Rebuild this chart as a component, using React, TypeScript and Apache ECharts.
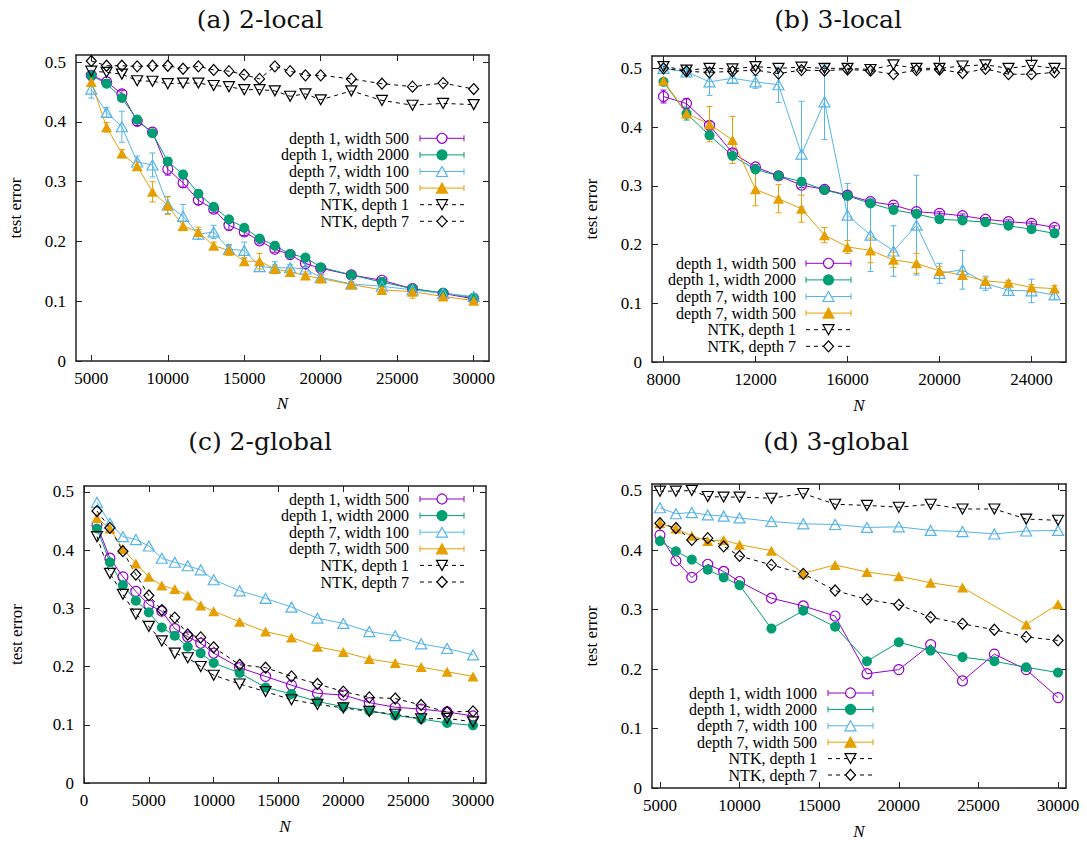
import React, { useEffect, useRef } from "react";
import * as echarts from "echarts";

const PURPLE = "#9400d3";
const GREEN = "#009e73";
const BLUE = "#56b4e9";
const ORANGE = "#e69f00";
const BLACK = "#000000";
const FONT = '"Liberation Serif", "Times New Roman", serif';
const TITLE_FONT = '"DejaVu Serif", serif';

// ---------- Panel (a) 2-local ----------
const aN = [5000, 6000, 7000, 8000, 9000, 10000, 11000, 12000, 13000, 14000, 15000, 16000, 17000, 18000, 19000, 20000, 22000, 24000, 26000, 28000, 30000];
const aD1W500 = [0.478, 0.467, 0.447, 0.401, 0.383, 0.321, 0.298, 0.269, 0.254, 0.227, 0.216, 0.201, 0.187, 0.178, 0.163, 0.155, 0.144, 0.135, 0.121, 0.113, 0.104];
const aD1W500Err = [0.004, 0.004, 0.006, 0.007, 0.004, 0.010, 0.007, 0.007, 0.006, 0.008, 0.006, 0.005, 0.005, 0.005, 0.005, 0.004, 0.004, 0.004, 0.004, 0.003, 0.003];
const aD1W2000 = [0.478, 0.464, 0.440, 0.404, 0.381, 0.334, 0.312, 0.280, 0.258, 0.237, 0.223, 0.205, 0.193, 0.179, 0.173, 0.157, 0.144, 0.132, 0.121, 0.114, 0.106];
const aD1W2000Err = [0.003, 0.003, 0.004, 0.005, 0.004, 0.005, 0.007, 0.006, 0.005, 0.004, 0.004, 0.004, 0.004, 0.003, 0.004, 0.003, 0.003, 0.003, 0.003, 0.003, 0.003];
const aD7W100 = [0.455, 0.416, 0.392, 0.333, 0.328, 0.261, 0.242, 0.212, 0.216, 0.187, 0.185, 0.158, 0.156, 0.156, 0.154, 0.140, 0.129, 0.125, 0.119, 0.113, 0.108];
const aD7W100Err = [0.015, 0.008, 0.026, 0.010, 0.020, 0.014, 0.020, 0.008, 0.011, 0.008, 0.014, 0.008, 0.010, 0.005, 0.009, 0.005, 0.004, 0.005, 0.008, 0.004, 0.004];
const aD7W500 = [0.467, 0.391, 0.347, 0.326, 0.283, 0.260, 0.226, 0.216, 0.193, 0.185, 0.167, 0.167, 0.154, 0.149, 0.143, 0.138, 0.128, 0.119, 0.116, 0.108, 0.101];
const aD7W500Err = [0.005, 0.008, 0.007, 0.007, 0.017, 0.015, 0.008, 0.008, 0.006, 0.008, 0.006, 0.013, 0.007, 0.005, 0.006, 0.007, 0.004, 0.004, 0.011, 0.004, 0.004];
const aNtk1 = [0.485, 0.483, 0.480, 0.469, 0.468, 0.464, 0.465, 0.465, 0.461, 0.459, 0.454, 0.454, 0.452, 0.443, 0.447, 0.437, 0.452, 0.436, 0.428, 0.431, 0.429];
const aNtk7 = [0.502, 0.494, 0.494, 0.493, 0.494, 0.494, 0.489, 0.493, 0.487, 0.485, 0.479, 0.472, 0.493, 0.485, 0.478, 0.478, 0.472, 0.464, 0.459, 0.465, 0.455];
const aXTicks = [5000, 10000, 15000, 20000, 25000, 30000];

// ---------- Panel (b) 3-local ----------
const bN = [8000, 9000, 10000, 11000, 12000, 13000, 14000, 15000, 16000, 17000, 18000, 19000, 20000, 21000, 22000, 23000, 24000, 25000];
const bD1W500 = [0.452, 0.440, 0.403, 0.356, 0.332, 0.317, 0.301, 0.294, 0.284, 0.273, 0.267, 0.256, 0.253, 0.249, 0.243, 0.239, 0.236, 0.229];
const bD1W500Err = [0.011, 0.009, 0.006, 0.005, 0.004, 0.004, 0.004, 0.003, 0.003, 0.003, 0.003, 0.003, 0.003, 0.003, 0.003, 0.003, 0.003, 0.003];
const bD1W2000 = [0.477, 0.423, 0.386, 0.351, 0.328, 0.317, 0.307, 0.293, 0.283, 0.270, 0.259, 0.252, 0.243, 0.241, 0.238, 0.232, 0.226, 0.219];
const bD1W2000Err = [0.004, 0.011, 0.007, 0.005, 0.004, 0.004, 0.004, 0.003, 0.003, 0.003, 0.003, 0.003, 0.003, 0.003, 0.003, 0.003, 0.003, 0.003];
const bD7W100 = [0.500, 0.494, 0.477, 0.483, 0.477, 0.472, 0.354, 0.443, 0.250, 0.216, 0.189, 0.233, 0.151, 0.157, 0.134, 0.122, 0.121, 0.114];
const bD7W100Err = [0.004, 0.006, 0.023, 0.008, 0.011, 0.030, 0.090, 0.064, 0.054, 0.062, 0.043, 0.085, 0.017, 0.033, 0.012, 0.009, 0.020, 0.007];
const bD7W500 = [0.479, 0.423, 0.405, 0.378, 0.294, 0.278, 0.261, 0.216, 0.196, 0.190, 0.174, 0.168, 0.155, 0.148, 0.138, 0.135, 0.127, 0.125];
const bD7W500Err = [0.004, 0.007, 0.030, 0.040, 0.028, 0.024, 0.023, 0.013, 0.011, 0.021, 0.013, 0.017, 0.008, 0.006, 0.005, 0.004, 0.005, 0.005];
const bNtk1 = [0.503, 0.497, 0.500, 0.499, 0.503, 0.500, 0.502, 0.500, 0.500, 0.498, 0.506, 0.500, 0.500, 0.504, 0.506, 0.500, 0.505, 0.500];
const bNtk7 = [0.500, 0.495, 0.493, 0.495, 0.497, 0.491, 0.497, 0.496, 0.498, 0.496, 0.490, 0.497, 0.498, 0.492, 0.499, 0.490, 0.490, 0.493];
const bXTicks = [8000, 12000, 16000, 20000, 24000];

// ---------- Panel (c) 2-global ----------
const cN = [1000, 2000, 3000, 4000, 5000, 6000, 7000, 8000, 9000, 10000, 12000, 14000, 16000, 18000, 20000, 22000, 24000, 26000, 28000, 30000];
const cD1W500 = [0.443, 0.386, 0.354, 0.329, 0.306, 0.295, 0.265, 0.251, 0.240, 0.223, 0.198, 0.183, 0.168, 0.154, 0.151, 0.138, 0.130, 0.127, 0.122, 0.115];
const cD1W2000 = [0.437, 0.379, 0.340, 0.313, 0.293, 0.267, 0.253, 0.234, 0.223, 0.206, 0.189, 0.164, 0.153, 0.140, 0.131, 0.124, 0.116, 0.110, 0.103, 0.099];
const cD7W100 = [0.482, 0.446, 0.423, 0.418, 0.407, 0.386, 0.379, 0.373, 0.366, 0.349, 0.330, 0.317, 0.302, 0.283, 0.274, 0.260, 0.253, 0.239, 0.231, 0.220];
const cD7W500 = [0.455, 0.437, 0.402, 0.377, 0.354, 0.339, 0.333, 0.322, 0.305, 0.295, 0.277, 0.260, 0.250, 0.234, 0.225, 0.213, 0.206, 0.199, 0.191, 0.183];
const cNtk1 = [0.423, 0.360, 0.324, 0.290, 0.269, 0.244, 0.223, 0.215, 0.200, 0.185, 0.170, 0.157, 0.143, 0.135, 0.129, 0.123, 0.118, 0.110, 0.111, 0.105];
const cNtk7 = [0.467, 0.438, 0.398, 0.358, 0.322, 0.297, 0.284, 0.255, 0.250, 0.233, 0.203, 0.198, 0.183, 0.170, 0.157, 0.147, 0.145, 0.134, 0.122, 0.123];
const cXTicks = [0, 5000, 10000, 15000, 20000, 25000, 30000];

// ---------- Panel (d) 3-global ----------
const dN = [5000, 6000, 7000, 8000, 9000, 10000, 12000, 14000, 16000, 18000, 20000, 22000, 24000, 26000, 28000, 30000];
const dD1W1000 = [0.425, 0.382, 0.354, 0.376, 0.364, 0.347, 0.319, 0.306, 0.289, 0.192, 0.199, 0.241, 0.180, 0.225, 0.199, 0.152];
const dD1W2000 = [0.415, 0.398, 0.384, 0.367, 0.354, 0.341, 0.268, 0.298, 0.271, 0.213, 0.245, 0.231, 0.220, 0.213, 0.203, 0.194];
const dD7W100 = [0.471, 0.461, 0.463, 0.459, 0.457, 0.454, 0.448, 0.444, 0.443, 0.438, 0.439, 0.433, 0.431, 0.427, 0.432, 0.433];
const dD7W500 = [0.445, 0.436, 0.424, 0.415, 0.417, 0.409, 0.399, 0.361, 0.375, 0.363, 0.356, 0.345, 0.337, null, 0.275, 0.309];
const dNtk1 = [0.499, 0.499, 0.500, 0.490, 0.489, 0.489, 0.487, 0.495, 0.477, 0.475, 0.472, 0.477, 0.469, 0.469, 0.452, 0.450];
const dNtk7 = [0.445, 0.437, 0.417, 0.420, 0.406, 0.390, 0.375, 0.360, 0.332, 0.317, 0.308, 0.287, 0.276, 0.266, 0.254, 0.248];
const dXTicks = [5000, 10000, 15000, 20000, 25000, 30000];

const yTicks = [0, 0.1, 0.2, 0.3, 0.4, 0.5];

const titles = ["(a) 2-local", "(b) 3-local", "(c) 2-global", "(d) 3-global"];
const namesABC = ["depth 1, width 500", "depth 1, width 2000", "depth 7, width 100", "depth 7, width 500", "NTK, depth 1", "NTK, depth 7"];
const namesD = ["depth 1, width 1000", "depth 1, width 2000", "depth 7, width 100", "depth 7, width 500", "NTK, depth 1", "NTK, depth 7"];

type Kind = "p" | "g" | "b" | "o" | "n1" | "n7";
const KINDS: Kind[] = ["p", "g", "b", "o", "n1", "n7"];
const STYLE: Record<Kind, any> = {
  p: { color: PURPLE, symbol: "circle", filled: false, dashed: false, size: 10, rotate: 0 },
  g: { color: GREEN, symbol: "circle", filled: true, dashed: false, size: 10, rotate: 0 },
  b: { color: BLUE, symbol: "triangle", filled: false, dashed: false, size: [11, 10], rotate: 0 },
  o: { color: ORANGE, symbol: "triangle", filled: true, dashed: false, size: [11, 10], rotate: 0 },
  n1: { color: BLACK, symbol: "triangle", filled: false, dashed: true, size: [11, 10], rotate: 180 },
  n7: { color: BLACK, symbol: "diamond", filled: false, dashed: true, size: [10, 11], rotate: 0 },
};

function errRender(color: string) {
  return (params: any, api: any) => {
    const x = api.value(0);
    const lo = api.coord([x, api.value(1)]);
    const hi = api.coord([x, api.value(2)]);
    const w = 3;
    const style = { stroke: color, lineWidth: 1 };
    return {
      type: "group",
      children: [
        { type: "line", shape: { x1: lo[0], y1: lo[1], x2: hi[0], y2: hi[1] }, style },
        { type: "line", shape: { x1: lo[0] - w, y1: lo[1], x2: lo[0] + w, y2: lo[1] }, style },
        { type: "line", shape: { x1: hi[0] - w, y1: hi[1], x2: hi[0] + w, y2: hi[1] }, style },
      ],
    };
  };
}

function panelSeries(g: number, xs: number[], ys: (number | null)[][], errs: (number[] | null)[]) {
  const out: any[] = [];
  ys.forEach((y, k) => {
    const st = STYLE[KINDS[k]];
    const err = errs[k];
    if (err) {
      out.push({
        type: "custom",
        xAxisIndex: g * 2,
        yAxisIndex: g * 2,
        z: 1,
        silent: true,
        data: xs.map((x, i) => [x, (y[i] as number) - err[i], (y[i] as number) + err[i]]),
        encode: { x: 0, y: [1, 2] },
        renderItem: errRender(st.color),
      });
    }
    const data = xs.map((x, i) => (y[i] == null ? null : [x, y[i]])).filter((d) => d !== null);
    out.push({
      type: "line",
      xAxisIndex: g * 2,
      yAxisIndex: g * 2,
      z: 2,
      silent: true,
      data,
      symbol: st.symbol,
      symbolSize: st.size,
      symbolRotate: st.rotate,
      showAllSymbol: true,
      lineStyle: { color: st.color, width: 1, type: st.dashed ? [4, 4] : "solid" },
      itemStyle: st.filled
        ? { color: st.color, borderWidth: 0 }
        : { color: "rgba(255,255,255,0)", borderColor: st.color, borderWidth: 1.2 },
      emphasis: { disabled: true },
    });
  });
  return out;
}

function axesFor(g: number, xMin: number, xMax: number, yMax: number, xTicks: number[], xGap: number, yGap: number) {
  const axisLine = { show: true, onZero: false, lineStyle: { color: "#222", width: 1.5 } };
  const tick = (vals: number[]) => ({ show: true, inside: true, length: 6, customValues: vals, lineStyle: { color: "#222", width: 1 } });
  const label = (vals: number[], margin: number) => ({
    show: true,
    customValues: vals,
    margin,
    formatter: (v: number) => String(v),
    color: "#000",
    fontFamily: FONT,
    fontSize: 17,
  });
  const x = [
    {
      type: "value", gridIndex: g, position: "bottom", min: xMin, max: xMax,
      axisLine, axisTick: tick(xTicks), axisLabel: label(xTicks, 9), splitLine: { show: false },
      name: "N", nameLocation: "middle", nameGap: xGap, nameMoveOverlap: false,
      nameTextStyle: { fontFamily: FONT, fontSize: 17, fontStyle: "italic", color: "#000" },
    },
    {
      type: "value", gridIndex: g, position: "top", min: xMin, max: xMax,
      axisLine, axisTick: tick(xTicks), axisLabel: { show: false }, splitLine: { show: false },
    },
  ];
  const y = [
    {
      type: "value", gridIndex: g, position: "left", min: 0, max: yMax,
      axisLine, axisTick: tick(yTicks), axisLabel: label(yTicks, 10), splitLine: { show: false },
      name: "test error", nameLocation: "middle", nameGap: yGap, nameMoveOverlap: false,
      nameTextStyle: { fontFamily: FONT, fontSize: 17, color: "#000" },
    },
    {
      type: "value", gridIndex: g, position: "right", min: 0, max: yMax,
      axisLine, axisTick: tick(yTicks), axisLabel: { show: false }, splitLine: { show: false },
    },
  ];
  return { x, y };
}

function legendEls(textRight: number, x1: number, x2: number, y0: number, dy: number, names: string[]) {
  const els: any[] = [];
  const cx = (x1 + x2) / 2;
  names.forEach((nm, i) => {
    const y = y0 + dy * i;
    const st = STYLE[KINDS[i]];
    els.push({
      type: "text", x: textRight, y, silent: true,
      style: {
        text: nm, font: `16px ${FONT}`, fill: "#000", lineHeight: 14,
        textAlign: "right", textVerticalAlign: "middle",
      },
    });
    els.push({
      type: "line", silent: true, shape: { x1, y1: y, x2, y2: y },
      style: { stroke: st.color, lineWidth: 1, lineDash: st.dashed ? [4, 4] : null },
    });
    if (!st.dashed) {
      els.push({ type: "line", silent: true, shape: { x1, y1: y - 3, x2: x1, y2: y + 3 }, style: { stroke: st.color, lineWidth: 1 } });
      els.push({ type: "line", silent: true, shape: { x1: x2, y1: y - 3, x2, y2: y + 3 }, style: { stroke: st.color, lineWidth: 1 } });
    }
    const fill = st.filled ? st.color : "#fff";
    const sStyle = { fill, stroke: st.color, lineWidth: 1.2 };
    if (st.symbol === "circle") {
      els.push({ type: "circle", silent: true, shape: { cx, cy: y, r: 5 }, style: sStyle });
    } else if (st.symbol === "diamond") {
      els.push({ type: "polygon", silent: true, shape: { points: [[cx, y - 5.5], [cx + 5, y], [cx, y + 5.5], [cx - 5, y]] }, style: sStyle });
    } else if (st.rotate === 180) {
      els.push({ type: "polygon", silent: true, shape: { points: [[cx - 5.5, y - 5], [cx + 5.5, y - 5], [cx, y + 5]] }, style: sStyle });
    } else {
      els.push({ type: "polygon", silent: true, shape: { points: [[cx, y - 5], [cx + 5.5, y + 5], [cx - 5.5, y + 5]] }, style: sStyle });
    }
  });
  return els;
}

function titleEl(text: string, x: number, y: number) {
  return {
    type: "text", x, y, silent: true,
    style: { text, font: `25px ${TITLE_FONT}`, fill: "#111", textAlign: "center", textVerticalAlign: "middle" },
  };
}

export default function App() {
  const ref = useRef<HTMLDivElement>(null);
  useEffect(() => {
    if (!ref.current) return;
    const chart = echarts.init(ref.current, undefined, { renderer: "svg" });

    const axA = axesFor(0, 4000, 31000, 0.512, aXTicks, 34, 52);
    const axB = axesFor(1, 7500, 25500, 0.521, bXTicks, 35, 52);
    const axC = axesFor(2, 0, 31000, 0.51, cXTicks, 35, 59);
    const axD = axesFor(3, 4500, 30500, 0.511, dXTicks, 35, 52);

    const series = [
      ...panelSeries(0, aN, [aD1W500, aD1W2000, aD7W100, aD7W500, aNtk1, aNtk7], [aD1W500Err, aD1W2000Err, aD7W100Err, aD7W500Err, null, null]),
      ...panelSeries(1, bN, [bD1W500, bD1W2000, bD7W100, bD7W500, bNtk1, bNtk7], [bD1W500Err, bD1W2000Err, bD7W100Err, bD7W500Err, null, null]),
      ...panelSeries(2, cN, [cD1W500, cD1W2000, cD7W100, cD7W500, cNtk1, cNtk7], [null, null, null, null, null, null]),
      ...panelSeries(3, dN, [dD1W1000, dD1W2000, dD7W100, dD7W500, dNtk1, dNtk7], [null, null, null, null, null, null]),
    ];

    const graphic = [
      titleEl(titles[0], 260, 19),
      titleEl(titles[1], 838, 19),
      titleEl(titles[2], 260, 441),
      titleEl(titles[3], 836, 441),
      ...legendEls(409, 420, 464, 138.3, 16.6, namesABC),
      ...legendEls(796, 806, 851, 263.3, 16.6, namesABC),
      ...legendEls(409, 420, 464, 499, 16.6, namesABC),
      ...legendEls(817, 828, 873, 693.0, 16.4, namesD),
    ];

    chart.setOption({
      animation: false,
      backgroundColor: "#fff",
      grid: [
        { left: 76, top: 55, width: 413, height: 306, outerBoundsMode: "none" },
        { left: 652, top: 56, width: 414, height: 306, outerBoundsMode: "none" },
        { left: 84, top: 486, width: 402, height: 297, outerBoundsMode: "none" },
        { left: 652, top: 484, width: 414, height: 304, outerBoundsMode: "none" },
      ],
      xAxis: [...axA.x, ...axB.x, ...axC.x, ...axD.x],
      yAxis: [...axA.y, ...axB.y, ...axC.y, ...axD.y],
      series,
      graphic,
    });
    return () => chart.dispose();
  }, []);
  return <div ref={ref} style={{ position: "absolute", left: 0, top: 0, width: 1087, height: 843 }} />;
}
